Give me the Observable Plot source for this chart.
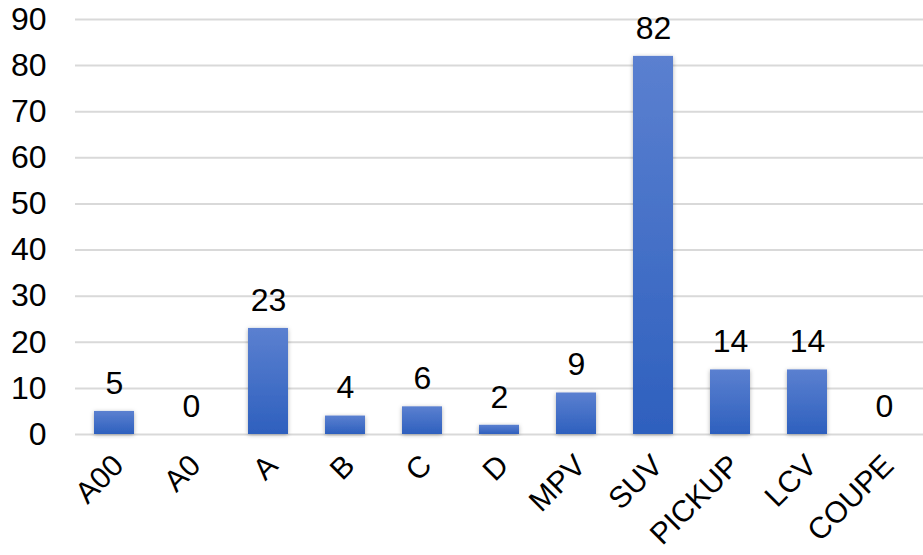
<!DOCTYPE html>
<html>
<head>
<meta charset="utf-8">
<script src="https://cdn.jsdelivr.net/npm/d3@7"></script>
<script src="https://cdn.jsdelivr.net/npm/@observablehq/plot@0.6"></script>
<style>
  html, body { margin: 0; padding: 0; background: #fff; }
  #chart svg { display: block; }
</style>
</head>
<body>
<div id="chart"></div>
<script>
const categories = ["A00", "A0", "A", "B", "C", "D", "MPV", "SUV", "PICKUP", "LCV", "COUPE"];
const values = [5, 0, 23, 4, 6, 2, 9, 82, 14, 14, 0];
const yTicks = [0, 10, 20, 30, 40, 50, 60, 70, 80, 90];

const data = categories.map((c, i) => ({category: c, value: values[i]}));

const chart = Plot.plot({
  width: 923,
  height: 555,
  marginTop: 19,
  marginBottom: 121,
  marginLeft: 75,
  marginRight: 0,
  style: {fontFamily: "'Liberation Sans', Arial, sans-serif", fontSize: "32px", color: "#000", background: "#fff"},
  x: {domain: categories, paddingInner: 0.48, paddingOuter: 0.24, label: null},
  y: {domain: [0, 90], label: null},
  marks: [
    Plot.gridY(yTicks, {stroke: "#d9d9d9", strokeOpacity: 1, strokeWidth: 2}),
    Plot.barY(data, {x: "category", y: "value", fill: "url(#barGrad)", filter: d => d.value > 0}),
    Plot.text(data, {x: "category", y: "value", text: d => String(d.value), dy: -28, fill: "#000", fontSize: 32, fontFamily: "'Liberation Sans', Arial, sans-serif"}),
    Plot.axisY(yTicks, {tickSize: 0, tickPadding: 29, fontSize: 32, label: null}),
    Plot.axisX({tickSize: 0, tickRotate: -45, tickPadding: 24, dx: 4, dy: 2, fontSize: 30, label: null})
  ]
});

const svg = d3.select(chart);
const defs = svg.insert("defs", ":first-child");
const grad = defs.append("linearGradient").attr("id", "barGrad").attr("x1", 0).attr("y1", 0).attr("x2", 0).attr("y2", 1);
grad.append("stop").attr("offset", "0%").attr("stop-color", "#5b80d0");
grad.append("stop").attr("offset", "100%").attr("stop-color", "#2e60be");
const f = defs.append("filter").attr("id", "shadow").attr("x", "-20%").attr("y", "-20%").attr("width", "140%").attr("height", "140%");
f.append("feDropShadow").attr("dx", 0).attr("dy", 1).attr("stdDeviation", 2).attr("flood-color", "#000").attr("flood-opacity", 0.3);
svg.selectAll("g[aria-label='bar'] rect").attr("filter", "url(#shadow)");

document.getElementById("chart").appendChild(chart);
</script>
</body>
</html>
